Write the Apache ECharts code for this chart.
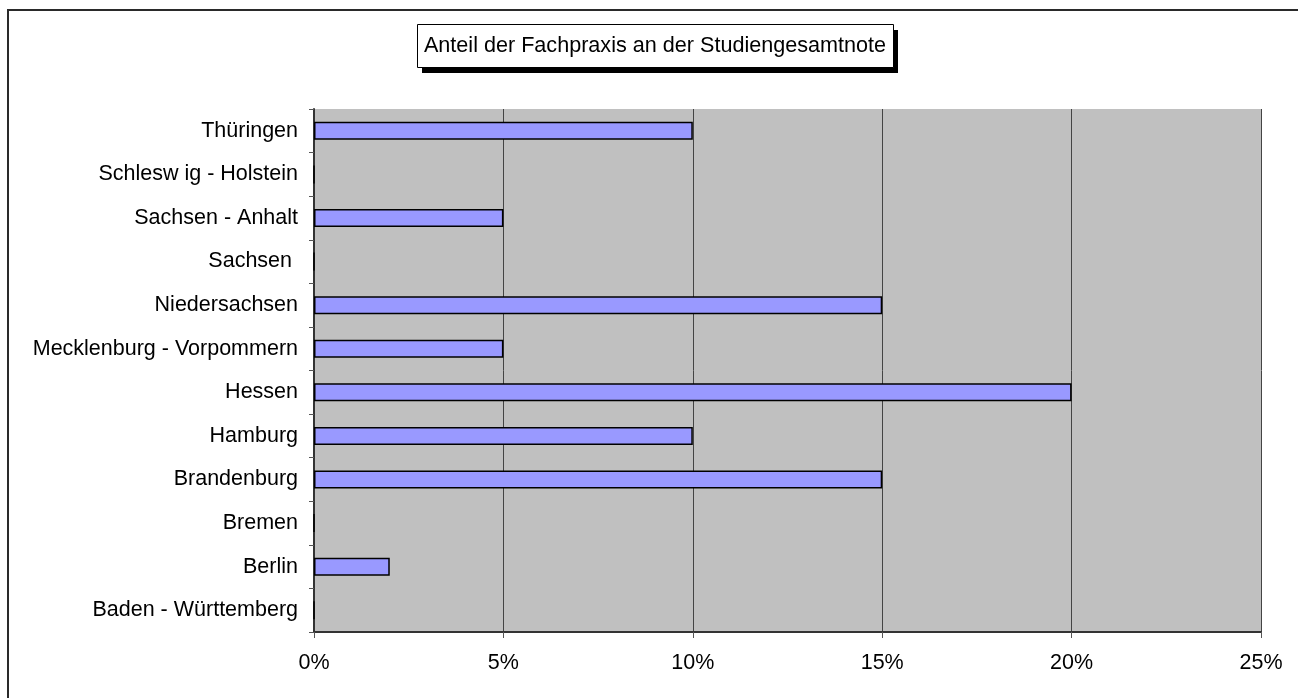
<!DOCTYPE html>
<html>
<head>
<meta charset="utf-8">
<script src="https://cdn.jsdelivr.net/npm/echarts@6/dist/echarts.min.js"></script>
<style>
  html, body { margin: 0; padding: 0; background: #fff; }
  #chart { width: 1298px; height: 698px; }
</style>
</head>
<body>
<div id="chart"></div>
<script>
// Länder, von unten nach oben wie auf der Achse
const laender = [
  'Baden - Württemberg', 'Berlin', 'Bremen', 'Brandenburg', 'Hamburg', 'Hessen',
  'Mecklenburg - Vorpommern', 'Niedersachsen', 'Sachsen ', 'Sachsen - Anhalt',
  'Schlesw ig - Holstein', 'Thüringen'
];
// Anteil der Fachpraxis in Prozent
const anteil = [0, 2, 0, 15, 10, 20, 5, 15, 0, 5, 0, 10];
const titelText = 'Anteil der Fachpraxis an der Studiengesamtnote';
const achseMax = 25;
const achseSchritt = 5;

const font = 'Arial, "Liberation Sans", sans-serif';
const chart = echarts.init(document.getElementById('chart'));

chart.setOption({
  animation: false,
  backgroundColor: '#ffffff',
  graphic: [
    // Rahmen um das ganze Diagramm
    {
      type: 'rect',
      shape: { x: 8, y: 10, width: 1400, height: 800 },
      style: { fill: 'none', stroke: '#2a2a2a', lineWidth: 2 },
      silent: true
    },
    // Titelkasten mit Schlagschatten
    {
      type: 'rect',
      shape: { x: 422, y: 30, width: 476, height: 43 },
      style: { fill: '#000' },
      silent: true, z: 10
    },
    {
      type: 'rect',
      shape: { x: 417.5, y: 24.5, width: 476, height: 43 },
      style: { fill: '#fff', stroke: '#000', lineWidth: 1 },
      silent: true, z: 11
    },
    {
      type: 'text',
      x: 655, y: 46,
      style: {
        text: titelText,
        fontFamily: font, fontSize: 21.6, fill: '#000',
        textAlign: 'center', textVerticalAlign: 'middle'
      },
      silent: true, z: 12
    }
  ],
  grid: {
    left: 314, right: 37, top: 109, bottom: 66,
    show: true,
    backgroundColor: '#c0c0c0',
    borderWidth: 0
  },
  xAxis: {
    type: 'value',
    min: 0,
    max: achseMax,
    interval: achseSchritt,
    axisLine: { show: true, lineStyle: { color: '#333', width: 2 } },
    axisTick: { show: true, length: 6, lineStyle: { color: '#555' } },
    splitLine: { show: true, lineStyle: { color: '#444', width: 1 } },
    axisLabel: {
      margin: 20,
      fontFamily: font, fontSize: 21.5, color: '#000',
      formatter: v => v + '%'
    }
  },
  yAxis: {
    type: 'category',
    data: laender,
    boundaryGap: true,
    axisLine: { show: true, lineStyle: { color: '#333', width: 2 } },
    axisTick: { show: true, length: 5, inside: false, lineStyle: { color: '#555' } },
    axisLabel: { margin: 16, fontFamily: font, fontSize: 21.5, color: '#000' },
    splitLine: { show: false }
  },
  series: [{
    type: 'bar',
    data: anteil,
    barWidth: 18,
    itemStyle: { color: '#9999ff', borderColor: '#000', borderWidth: 1.5 }
  }]
});
</script>
</body>
</html>
